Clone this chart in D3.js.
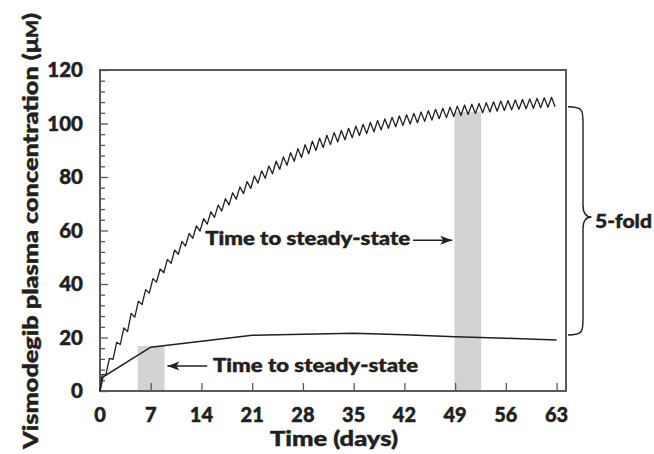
<!DOCTYPE html>
<html><head><meta charset="utf-8">
<script src="https://cdn.jsdelivr.net/npm/d3@7"></script>
<style>
body{margin:0;background:#fff}
text{font-family:Lato,"Open Sans",sans-serif;font-weight:900;fill:#231f20;stroke:#231f20;stroke-width:0.45px}
</style>
</head><body>
<svg id="chart" width="654" height="454"></svg>
<script>
// ---------- data ----------
const xTickValues = [7, 14, 21, 28, 35, 42, 49, 56, 63];
const xTickLabels = ["7", "14", "21", "28", "35", "42", "49", "56", "63"];
const yTickValues = [0, 20, 40, 60, 80, 100, 120];
const yTickLabels = ["0", "20", "40", "60", "80", "100", "120"];
const yMinorStep = 4;

// daily dosing profile: dose index (day), peak and trough concentrations (µM)
const doseDays = d3.range(0, 63);
const peakOffset = 0.3, troughOffset = 0.8;
const peakValues = [6.2,12.2,18.2,23.6,29.0,33.6,37.9,42.0,45.6,49.2,52.7,55.9,58.9,61.7,64.4,67.0,69.5,71.9,74.1,76.3,78.3,80.4,82.3,84.1,85.9,87.5,89.1,90.6,92.1,93.4,94.5,95.6,96.6,97.4,98.2,99.0,99.7,100.4,101.1,101.7,102.3,102.8,103.3,103.8,104.3,104.8,105.3,105.7,106.1,106.5,106.9,107.2,107.5,107.8,108.1,108.4,108.6,108.8,109.0,109.2,109.4,109.6,109.8];
const troughValues = [5.9,11.8,17.4,22.2,27.6,32.3,36.6,40.7,44.2,47.7,51.1,54.2,57.1,59.8,62.4,64.9,67.3,69.6,71.7,73.8,75.7,77.7,79.5,81.2,82.9,84.4,85.9,87.3,88.7,89.9,91.0,92.1,93.1,93.9,94.7,95.5,96.2,96.9,97.6,98.2,98.8,99.3,99.8,100.3,100.8,101.3,101.8,102.2,102.6,103.0,103.4,103.7,104.0,104.3,104.6,104.9,105.1,105.3,105.5,105.7,105.9,106.1,106.3];

// lower (predicted) curve
const lowerDays   = [0, 0.4, 7, 21, 28, 35, 42, 49, 56, 63];
const lowerValues = [0, 5.2, 16.4, 20.8, 21.2, 21.6, 21.0, 20.3, 19.7, 19.1];

// shaded "time to steady-state" bands: [startDay, endDay, topValue]
const bandStart = [5.2, 48.9];
const bandEnd   = [8.9, 52.6];
const bandTop   = [16.8, 104.4];

// ---------- layout ----------
const svg = d3.select("#chart");
const x = d3.scaleLinear().domain([0, 64.3]).range([100, 566]);
const y = d3.scaleLinear().domain([0, 120]).range([391, 70]);
const frameColor = "#58595b";

// bands
svg.append("g").selectAll("rect").data(bandStart).join("rect")
  .attr("x", (d,i) => x(d))
  .attr("width", (d,i) => x(bandEnd[i]) - x(d))
  .attr("y", (d,i) => y(bandTop[i]))
  .attr("height", (d,i) => y(0) - y(bandTop[i]))
  .attr("fill", "#d1d3d4");

// frame
svg.append("rect").attr("x", x(0)).attr("y", y(120))
  .attr("width", 466).attr("height", y(0) - y(120))
  .attr("fill", "none").attr("stroke", frameColor).attr("stroke-width", 2);

// y axis ticks (inward)
const yMinor = d3.range(0, 121, yMinorStep).filter(v => !yTickValues.includes(v));
const yAxisMajor = d3.axisRight(y).tickValues(yTickValues).tickSize(8).tickFormat("");
const yAxisMinor = d3.axisRight(y).tickValues(yMinor).tickSize(5).tickFormat("");
[yAxisMajor, yAxisMinor].forEach(ax => {
  const g = svg.append("g").attr("transform", `translate(${x(0)},0)`).call(ax);
  g.select(".domain").remove();
  g.selectAll("line").attr("stroke", frameColor).attr("stroke-width", 1.3);
});
svg.append("g").selectAll("text").data(yTickValues).join("text")
  .attr("x", 83).attr("y", d => y(d)).attr("dy", "0.36em")
  .attr("text-anchor", "end").attr("font-size", 20.5)
  .text((d,i) => yTickLabels[i]);

// x axis ticks (inward)
const xAxis = d3.axisTop(x).tickValues(xTickValues).tickSize(8).tickFormat("");
const gx = svg.append("g").attr("transform", `translate(0,${y(0)})`).call(xAxis);
gx.select(".domain").remove();
gx.selectAll("line").attr("stroke", frameColor).attr("stroke-width", 1.3);
svg.append("g").selectAll("text").data([0, ...xTickValues]).join("text")
  .attr("x", d => x(d)).attr("y", 422)
  .attr("text-anchor", "middle").attr("font-size", 20)
  .text((d,i) => ["0", ...xTickLabels][i]);

// upper curve (daily dosing)
const upperPts = [[0, 0]];
doseDays.forEach((d, i) => {
  upperPts.push([d + peakOffset, peakValues[i]]);
  upperPts.push([d + troughOffset, troughValues[i]]);
});
const line = d3.line().x(d => x(d[0])).y(d => y(d[1]));
svg.append("path").attr("d", line(upperPts))
  .attr("fill", "none").attr("stroke", "#231f20").attr("stroke-width", 1.3)
  .attr("stroke-linejoin", "round");

// lower curve
svg.append("path").attr("d", line(lowerDays.map((d,i) => [d, lowerValues[i]])))
  .attr("fill", "none").attr("stroke", "#231f20").attr("stroke-width", 1.5);

// axis titles
svg.append("text").attr("x", 334).attr("y", 446).attr("text-anchor", "middle")
  .attr("font-size", 21).attr("textLength", 128).attr("lengthAdjust", "spacingAndGlyphs")
  .text("Time (days)");
const yl = svg.append("text").attr("transform", "translate(38,231) rotate(-90)")
  .attr("text-anchor", "middle").attr("font-size", 21.5)
  .attr("textLength", 436).attr("lengthAdjust", "spacingAndGlyphs");
yl.append("tspan").text("Vismodegib plasma concentration (μ");
yl.append("tspan").attr("font-size", 16).text("M");
yl.append("tspan").text(")");

// annotations
function arrow(x1, x2, yy) {
  svg.append("line").attr("x1", x1).attr("x2", x2).attr("y1", yy).attr("y2", yy)
    .attr("stroke", "#231f20").attr("stroke-width", 1.5);
  const dir = x2 > x1 ? 1 : -1;
  svg.append("path")
    .attr("d", `M${x2},${yy} L${x2 - dir*12},${yy - 4.5} L${x2 - dir*9},${yy} L${x2 - dir*12},${yy + 4.5} Z`)
    .attr("fill", "#231f20");
}
svg.append("text").attr("x", x(42.8)).attr("y", y(54.6)).attr("text-anchor", "end")
  .attr("font-size", 18.5).attr("textLength", 205).attr("lengthAdjust", "spacingAndGlyphs")
  .text("Time to steady-state");
arrow(x(43.2), x(48.6), y(56.4));

svg.append("text").attr("x", x(15.6)).attr("y", y(7.1)).attr("text-anchor", "start")
  .attr("font-size", 18.5).attr("textLength", 205).attr("lengthAdjust", "spacingAndGlyphs")
  .text("Time to steady-state");
arrow(x(14.8), x(9.3), y(9.3));

// brace ("5-fold")
const bt = 106.7, bb = 335, bm = 217, bx0 = 568, bx1 = 583, bxt = 591.5;
svg.append("path")
  .attr("d", `M${bx0},${bt} C${bx1},${bt} ${bx1},${bt+4} ${bx1},${bt+16} L${bx1},${bm-12} C${bx1},${bm-4} ${bx1+3},${bm} ${bxt},${bm} C${bx1+3},${bm} ${bx1},${bm+4} ${bx1},${bm+12} L${bx1},${bb-16} C${bx1},${bb-4} ${bx1},${bb} ${bx0},${bb}`)
  .attr("fill", "none").attr("stroke", "#231f20").attr("stroke-width", 1.4);
svg.append("text").attr("x", 595).attr("y", 228).attr("font-size", 18.5)
  .attr("textLength", 57).attr("lengthAdjust", "spacingAndGlyphs").text("5-fold");
</script>
</body></html>
